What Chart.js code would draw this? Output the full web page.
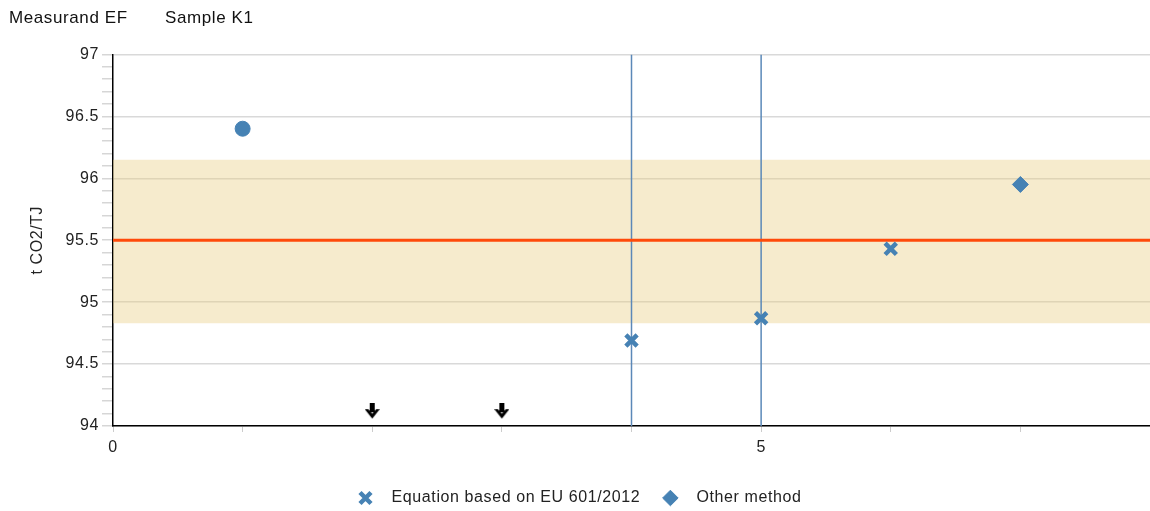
<!DOCTYPE html>
<html>
<head>
<meta charset="utf-8">
<script src="https://cdn.jsdelivr.net/npm/chart.js@4/dist/chart.umd.min.js"></script>
<style>
  html, body { margin: 0; padding: 0; background: #fff; }
  #wrap { width: 1150px; height: 511px; }
</style>
</head>
<body>
<div id="wrap"><canvas id="chart" width="1150" height="511"></canvas></div>
<script>
// chart values
const xMin = 0, xMax = 8;
const yMin = 94, yMax = 97;
const bandLow = 94.83, bandHigh = 96.15;   // tolerance band
const refValue = 95.5;                      // assigned value
const circleX = [1], circleY = [96.4];
const eqX = [4, 5, 6], eqY = [94.69, 94.87, 95.43];
const otherX = [7], otherY = [95.95];
const belowX = [2, 3];                      // results below axis range
const markerLines = [4, 5];
const xLabels = [0, 5];

const blue = '#4682b4';
const FONT = '"Liberation Sans", Arial, sans-serif';

function pts(xs, ys) { return xs.map((x, i) => ({ x: x, y: ys[i] })); }

// small black down arrow used as point style
const arrow = document.createElement('canvas');
arrow.width = 15; arrow.height = 16;
(function () {
  const c = arrow.getContext('2d');
  c.fillStyle = '#000';
  c.fillRect(5, 0, 5, 9);
  c.beginPath();
  c.moveTo(0, 6); c.lineTo(7.5, 15.5); c.lineTo(15, 6); c.lineTo(11.5, 6);
  c.lineTo(7.5, 10.5); c.lineTo(3.5, 6);
  c.closePath();
  c.fill();
})();

const datasets = [
  {
    type: 'line', label: 'bandHigh',
    data: [{ x: xMin, y: bandHigh }, { x: xMax, y: bandHigh }],
    borderWidth: 0, pointRadius: 0, fill: '+1',
    backgroundColor: 'rgba(232,205,130,0.4)', order: 10
  },
  {
    type: 'line', label: 'bandLow',
    data: [{ x: xMin, y: bandLow }, { x: xMax, y: bandLow }],
    borderWidth: 0, pointRadius: 0, fill: false, order: 10
  },
  {
    type: 'line', label: 'ref',
    data: [{ x: xMin, y: refValue }, { x: xMax, y: refValue }],
    borderColor: '#ff4a0a', borderWidth: 3, pointRadius: 0, order: 5
  }
];
markerLines.forEach(v => datasets.push({
  type: 'line', label: 'marker',
  data: [{ x: v, y: yMin }, { x: v, y: yMax }],
  borderColor: '#5b88b8', borderWidth: 1.5, pointRadius: 0, order: 6
}));
datasets.push(
  {
    label: 'circle', data: pts(circleX, circleY), pointStyle: 'circle',
    pointRadius: 7.5, backgroundColor: blue, borderColor: blue, order: 1
  },
  {
    label: 'Equation based on EU 601/2012', data: pts(eqX, eqY), pointStyle: 'crossRot',
    pointRadius: 8, borderWidth: 4.5, backgroundColor: blue, borderColor: blue, order: 1
  },
  {
    label: 'Other method', data: pts(otherX, otherY), pointStyle: 'rectRot',
    pointRadius: 8, backgroundColor: blue, borderColor: blue, order: 1
  },
  {
    label: 'below', data: belowX.map(x => ({ x: x, y: yMin + 0.12 })),
    pointStyle: arrow, order: 1
  }
);

const legendNames = ['Equation based on EU 601/2012', 'Other method'];

// the original text is set a little wider than Liberation Sans
const spacing = {
  id: 'spacing',
  beforeUpdate(chart) { chart.ctx.letterSpacing = '0.6px'; },
  beforeDraw(chart) { chart.ctx.letterSpacing = '0.6px'; }
};

new Chart(document.getElementById('chart'), {
  type: 'scatter',
  data: { datasets: datasets },
  plugins: [spacing],
  options: {
    responsive: false,
    animation: false,
    layout: { autoPadding: false, padding: { left: 9, right: 0, top: 0, bottom: -5 } },
    plugins: {
      title: {
        display: true, align: 'start',
        text: 'Measurand EF       Sample K1',
        color: '#111', font: { family: FONT, size: 17, weight: 'normal' },
        padding: { top: 8, bottom: 26 }
      },
      legend: {
        position: 'bottom',
        labels: {
          usePointStyle: true, boxHeight: 11, padding: 12,
          color: '#222', font: { family: FONT, size: 16 },
          generateLabels: chart => {
            const items = Chart.defaults.plugins.legend.labels.generateLabels(chart)
              .filter(item => legendNames.includes(item.text));
            return items.map((item, i) => Object.assign(item, {
              text: '  ' + item.text + (i < items.length - 1 ? '  ' : '')
            }));
          }
        }
      },
      tooltip: { enabled: false }
    },
    scales: {
      x: {
        type: 'linear', min: xMin, max: xMax,
        grid: { color: 'transparent', tickColor: '#cccccc', tickLength: 6, drawOnChartArea: false },
        border: { color: '#000', width: 1.5 },
        ticks: {
          stepSize: 1, autoSkip: false, color: '#222', padding: 6,
          font: { family: FONT, size: 16 },
          callback: v => xLabels.includes(v) ? String(v) : ''
        },
        afterFit: s => { s.height = 52; s.paddingLeft = 0; s.paddingRight = 0; }
      },
      y: {
        min: yMin, max: yMax,
        grid: {
          color: c => (Math.abs(c.tick.value * 2 - Math.round(c.tick.value * 2)) < 1e-6) ? '#d9d9d9' : 'transparent',
          tickColor: '#d6d6d6', tickLength: 11, lineWidth: 1.5
        },
        border: { color: '#000', width: 1.5 },
        ticks: {
          stepSize: 0.1, autoSkip: false, color: '#222', padding: 3,
          font: { family: FONT, size: 16 },
          callback: v => (Math.abs(v * 2 - Math.round(v * 2)) < 1e-6) ? String(Math.round(v * 2) / 2) : ''
        },
        title: {
          display: true, text: 't CO2/TJ', color: '#222',
          font: { family: FONT, size: 16 }, padding: { top: 19, bottom: 18 }
        },
        afterFit: s => { s.width = 104; s.paddingTop = 0; s.paddingBottom = 0; }
      }
    }
  }
});
</script>
</body>
</html>
